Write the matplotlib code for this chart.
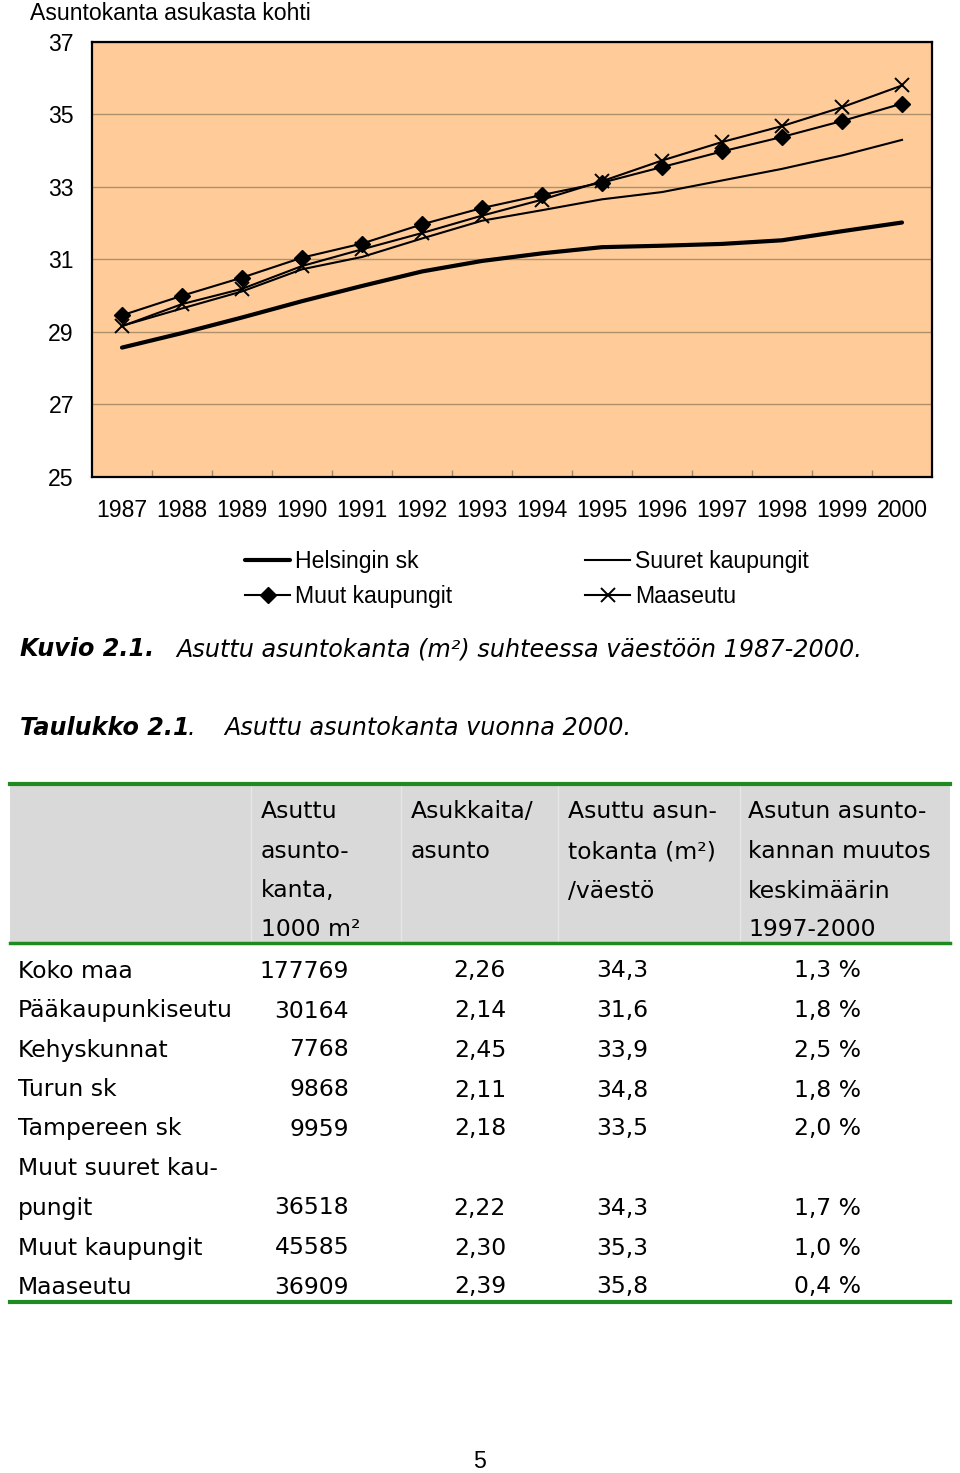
import matplotlib
matplotlib.use('Agg')
import matplotlib.pyplot as plt
import numpy as np

# chart data
years = [1987, 1988, 1989, 1990, 1991, 1992, 1993, 1994, 1995, 1996, 1997, 1998, 1999, 2000]
helsinki = [28.57, 28.97, 29.40, 29.85, 30.27, 30.67, 30.96, 31.17, 31.34, 31.38, 31.43, 31.53, 31.78, 32.02]
suuret = [29.17, 29.65, 30.12, 30.73, 31.07, 31.58, 32.07, 32.36, 32.66, 32.86, 33.18, 33.50, 33.87, 34.30]
muut = [29.46, 30.00, 30.50, 31.05, 31.44, 31.97, 32.42, 32.78, 33.12, 33.55, 33.98, 34.38, 34.82, 35.30]
maaseutu = [29.16, 29.77, 30.19, 30.82, 31.28, 31.73, 32.21, 32.65, 33.16, 33.73, 34.24, 34.68, 35.20, 35.80]
yticks = [25, 27, 29, 31, 33, 35, 37]

# table data
row_labels = ["Koko maa", "Pääkaupunkiseutu", "Kehyskunnat", "Turun sk", "Tampereen sk",
              "Muut suuret kau-\npungit", "Muut kaupungit", "Maaseutu"]
kanta = [177769, 30164, 7768, 9868, 9959, 36518, 45585, 36909]
asukkaita = [2.26, 2.14, 2.45, 2.11, 2.18, 2.22, 2.30, 2.39]
per_asukas = [34.3, 31.6, 33.9, 34.8, 33.5, 34.3, 35.3, 35.8]
muutos = [1.3, 1.8, 2.5, 1.8, 2.0, 1.7, 1.0, 0.4]
headers = [["Asuttu", "asunto-", "kanta,", "1000 m²"],
           ["Asukkaita/", "asunto"],
           ["Asuttu asun-", "tokanta (m²)", "/väestö"],
           ["Asutun asunto-", "kannan muutos", "keskimäärin", "1997-2000"]]

W, H = 960, 1473
fig = plt.figure(figsize=(W / 100, H / 100), dpi=100)

arial = 'Liberation Sans'
verd = 'DejaVu Sans'
cfs = 16.6

# --- chart ---
ax = fig.add_axes([92 / W, 1 - 477 / H, 840 / W, 435 / H])
ax.set_facecolor('#FFCC99')
x = np.arange(len(years))
l1, = ax.plot(x, helsinki, color='black', lw=3.0, solid_capstyle='round')
l2, = ax.plot(x, suuret, color='black', lw=1.5)
l3, = ax.plot(x, muut, color='black', lw=1.5, marker='D', ms=8)
l4, = ax.plot(x, maaseutu, color='black', lw=1.5, marker='x', ms=10, mew=1.4)

ax.set_xlim(-0.5, len(years) - 0.5)
ax.set_ylim(25, 37)
ax.set_yticks(yticks)
ax.set_yticklabels([str(v) for v in yticks], family=arial, fontsize=cfs)
ax.tick_params(axis='y', length=0, pad=13)
ax.set_xticks(x)
ax.set_xticklabels([str(y) for y in years], family=arial, fontsize=cfs)
ax.tick_params(axis='x', which='major', length=0, pad=16)
ax.set_xticks(np.arange(0.5, len(years) - 1, 1), minor=True)
ax.tick_params(axis='x', which='minor', direction='in', length=5, color='#a08868', width=1)
ax.grid(axis='y', color='#b0906a', lw=1)
ax.set_axisbelow(True)
for s in ax.spines.values():
    s.set_linewidth(1.6)
    s.set_color('black')

fig.text(30 / W, 1 - 13 / H, "Asuntokanta asukasta kohti", family=arial, fontsize=cfs,
         ha='left', va='center')

leg_kw = dict(loc='upper left', frameon=False, prop={'family': arial, 'size': cfs},
              handlelength=1.97, handletextpad=0.22, labelspacing=0.52,
              borderpad=0, borderaxespad=0)
fig.legend([l1, l3], ["Helsingin sk", "Muut kaupungit"],
           bbox_to_anchor=(245 / W, 1 - 550 / H), **leg_kw)
fig.legend([l2, l4], ["Suuret kaupungit", "Maaseutu"],
           bbox_to_anchor=(585 / W, 1 - 550 / H), **leg_kw)

# --- page text and table in pixel coordinates ---
pg = fig.add_axes([0, 0, 1, 1])
pg.set_xlim(0, W)
pg.set_ylim(H, 0)
pg.axis('off')

cap = 17.2
pg.text(20, 649, "Kuvio 2.1.", family=verd, fontsize=cap, weight='bold', style='italic', va='center')
pg.text(176, 649, "Asuttu asuntokanta (m²) suhteessa väestöön 1987-2000.", family=verd,
        fontsize=cap, style='italic', va='center')
pg.text(20, 728, "Taulukko 2.1", family=verd, fontsize=cap, weight='bold', style='italic', va='center')
pg.text(188, 728, ".", family=verd, fontsize=cap, style='italic', va='center')
pg.text(224, 728, "Asuttu asuntokanta vuonna 2000.", family=verd, fontsize=cap, style='italic',
        va='center')

fs = 16.9
green = '#1f8a1f'
pg.add_patch(plt.Rectangle((10, 785), 940, 157, color='#d9d9d9', lw=0))
for xv in [251, 401, 558, 740]:
    pg.plot([xv, xv], [786, 941], color='#e6e6e6', lw=1)
pg.plot([10, 950], [783.5, 783.5], color=green, lw=3)
pg.plot([10, 950], [942.5, 942.5], color=green, lw=2.5)
pg.plot([10, 950], [1301.5, 1301.5], color=green, lw=3)

head_x = [261, 411, 568, 748]
head_y = [812, 852, 891, 930]
for hx, lines in zip(head_x, headers):
    for hy, t in zip(head_y, lines):
        pg.text(hx, hy, t, family=verd, fontsize=fs, va='center', ha='left')

row_y = [971, 1011, 1050, 1090, 1129, 1208, 1248, 1287]
def fmt(v, d):
    return f"{v:.{d}f}".replace('.', ',')

for i, lab in enumerate(row_labels):
    ry = row_y[i]
    if '\n' in lab:
        a, b = lab.split('\n')
        pg.text(18, ry - 39.5, a, family=verd, fontsize=fs, va='center')
        pg.text(18, ry, b, family=verd, fontsize=fs, va='center')
    else:
        pg.text(18, ry, lab, family=verd, fontsize=fs, va='center')
    pg.text(349, ry, str(kanta[i]), family=verd, fontsize=fs, va='center', ha='right')
    pg.text(506, ry, fmt(asukkaita[i], 2), family=verd, fontsize=fs, va='center', ha='right')
    pg.text(648, ry, fmt(per_asukas[i], 1), family=verd, fontsize=fs, va='center', ha='right')
    pg.text(861, ry, fmt(muutos[i], 1) + " %", family=verd, fontsize=fs, va='center', ha='right')

pg.text(480, 1462, "5", family=arial, fontsize=cfs, va='center', ha='center')

fig.savefig('out.png', dpi=100, facecolor='white')
